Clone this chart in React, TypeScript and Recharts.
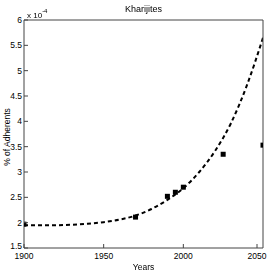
import { ComposedChart, Line, Scatter, XAxis, YAxis } from 'recharts';

// observed adherents (% x 1e-4)
const obsYears = [1900, 1970, 1990, 1995, 2000, 2025, 2050];
const obsValues = [1.97, 2.11, 2.52, 2.6, 2.7, 3.35, 3.53];

// fitted trend
const fitYears = [1900, 1910, 1920, 1930, 1940, 1950, 1960, 1970, 1980, 1990, 2000, 2010, 2020, 2030, 2040, 2050];
const fitValues = [1.95, 1.95, 1.95, 1.96, 1.98, 2.01, 2.06, 2.14, 2.27, 2.45, 2.68, 3.0, 3.42, 3.97, 4.72, 5.65];

const xTicks = [1900, 1950, 2000, 2050];
const yTicks = [1.5, 2, 2.5, 3, 3.5, 4, 4.5, 5, 5.5, 6];

const obs = obsYears.map((year, i) => ({ year, v: obsValues[i] }));
const fit = fitYears.map((year, i) => ({ year, v: fitValues[i] }));

const AXIS = '#444';
const FONT = '"Liberation Sans", Arial, sans-serif';

const LeftTick = (props: any) => {
  const { x, y, payload } = props;
  // lowest label sits a touch higher so it clears "1900"
  const dy = payload.value === 1.5 ? 1 : 3;
  return (
    <g>
      <line x1={x} x2={x + 4} y1={y} y2={y} stroke={AXIS} />
      <text x={x - 2} y={y + dy} textAnchor="end" fontSize={8.5} fontFamily={FONT} fill="#000">
        {payload.value}
      </text>
    </g>
  );
};

const RightTick = (props: any) => {
  const { x, y } = props;
  return <line x1={x} x2={x - 4} y1={y} y2={y} stroke={AXIS} />;
};

const BottomTick = (props: any) => {
  const { x, y, payload } = props;
  return (
    <g>
      <line x1={x} x2={x} y1={y} y2={y - 4} stroke={AXIS} />
      <text x={x} y={y + 11} textAnchor="middle" fontSize={8.5} fontFamily={FONT} fill="#000">
        {payload.value}
      </text>
    </g>
  );
};

const TopTick = (props: any) => {
  const { x, y } = props;
  return <line x1={x} x2={x} y1={y} y2={y + 4} stroke={AXIS} />;
};

const SquareDot = (props: any) => {
  const { cx, cy } = props;
  return <rect x={cx - 2.5} y={cy - 2.5} width={5} height={5} fill="#000" />;
};

export default function App() {
  return (
    <div style={{ position: 'fixed', left: 0, top: 0, width: 273, height: 273, background: '#fff', fontFamily: FONT }}>
      <ComposedChart width={273} height={273} margin={{ top: 19, right: 9, bottom: 0, left: 0 }}>
        <XAxis
          xAxisId="b"
          dataKey="year"
          type="number"
          domain={[1900, 2050]}
          ticks={xTicks}
          height={25}
          tickSize={0}
          tickMargin={0}
          tickLine={false}
          stroke={AXIS}
          tick={<BottomTick />}
          allowDataOverflow
        />
        <XAxis
          xAxisId="t"
          orientation="top"
          dataKey="year"
          type="number"
          domain={[1900, 2050]}
          ticks={xTicks}
          height={1}
          tickSize={0}
          tickMargin={0}
          tickLine={false}
          stroke={AXIS}
          tick={<TopTick />}
        />
        <YAxis
          yAxisId="l"
          type="number"
          domain={[1.5, 6]}
          ticks={yTicks}
          width={24}
          tickSize={0}
          tickMargin={0}
          tickLine={false}
          stroke={AXIS}
          tick={<LeftTick />}
          allowDataOverflow
        />
        <YAxis
          yAxisId="r"
          orientation="right"
          type="number"
          domain={[1.5, 6]}
          ticks={yTicks}
          width={1}
          tickSize={0}
          tickMargin={0}
          tickLine={false}
          stroke={AXIS}
          tick={<RightTick />}
        />
        <Line
          xAxisId="b"
          yAxisId="l"
          data={fit}
          dataKey="v"
          type="monotone"
          stroke="#000"
          strokeWidth={2}
          strokeDasharray="4 3"
          dot={false}
          isAnimationActive={false}
        />
        <Scatter
          xAxisId="b"
          yAxisId="l"
          data={obs}
          dataKey="v"
          fill="#000"
          shape={<SquareDot />}
          isAnimationActive={false}
        />
      </ComposedChart>
      <div style={{ position: 'absolute', left: 0, top: 4, width: 287, textAlign: 'center', fontSize: 9 }}>
        Kharijites
      </div>
      <div style={{ position: 'absolute', left: 27, top: 9, fontSize: 8 }}>
        x 10<sup style={{ fontSize: 6, position: 'relative', top: -1 }}>-4</sup>
      </div>
      <div style={{ position: 'absolute', left: 0, top: 262, width: 287, textAlign: 'center', fontSize: 8.5 }}>
        Years
      </div>
      <div
        style={{
          position: 'absolute',
          left: 7,
          top: 137,
          fontSize: 8.5,
          whiteSpace: 'nowrap',
          transform: 'translate(-50%, -50%) rotate(-90deg)',
        }}
      >
        % of Adherents
      </div>
    </div>
  );
}
